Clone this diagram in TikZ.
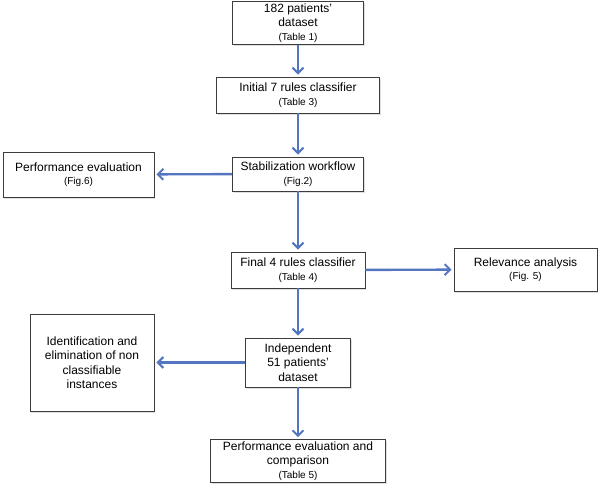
\documentclass[tikz,border=0pt]{standalone}
\usepackage{fontspec}
\setmainfont{Liberation Sans}
\usetikzlibrary{arrows.meta,shadows}
\definecolor{arrowblue}{RGB}{84,117,192}
\definecolor{boxgray}{RGB}{60,60,60}
\newcommand{\reffont}{\fontsize{10}{12}\selectfont}
\begin{document}
\begin{tikzpicture}[x=1pt, y=-1pt,
    box/.style = {draw=boxgray, line width=0.9pt, fill=white, align=center,
        inner sep=2pt, font=\fontsize{12}{14.5}\selectfont,
        drop shadow={shadow xshift=1.2pt, shadow yshift=-1.5pt, opacity=0.25}},
    flow/.style = {draw=arrowblue, line width=2.4pt, shorten >=2pt,
        -{Straight Barb[length=5.5pt, width=11pt, line width=2pt]}}]
    \useasboundingbox (0,0) rectangle (600,490);
    % boxes
    \node[box, minimum width=131pt, minimum height=43pt] (data) at (298,23) {182 patients’\\dataset\\[-1pt]{\reffont (Table 1)}};
    \node[box, minimum width=163pt, minimum height=36pt] (init) at (298,95) {Initial 7 rules classifier\\[-1pt]{\reffont (Table 3)}};
    \node[box, minimum width=131pt, minimum height=34pt] (stab) at (298,174) {Stabilization workflow\\[-1pt]{\reffont (Fig.2)}};
    \node[box, minimum width=151pt, minimum height=45pt] (perf) at (78.5,174.5) {Performance evaluation\\[-1pt]{\reffont (Fig.6)}};
    \node[box, minimum width=134pt, minimum height=36pt] (final) at (298,270) {Final 4 rules classifier\\[-1pt]{\reffont (Table 4)}};
    \node[box, minimum width=143pt, minimum height=43pt] (relev) at (525.5,269.5) {Relevance analysis\\[-1pt]{\reffont (Fig. 5)}};
    \node[box, minimum width=105pt, minimum height=49pt] (indep) at (298,362.5) {Independent\\51 patients’\\dataset};
    \node[box, minimum width=124pt, minimum height=97pt] (ident) at (92,362.5) {Identification and\\elimination of non\\classifiable\\instances};
    \node[box, minimum width=175pt, minimum height=42pt] (comp) at (298,461) {Performance evaluation and\\comparison\\[-1pt]{\reffont (Table 5)}};
    % arrows
    \draw[flow] (data) -- (init);
    \draw[flow] (init) -- (stab);
    \draw[flow] (stab) -- (perf);
    \draw[flow] (stab) -- (final);
    \draw[flow] (final) -- (relev);
    \draw[flow] (final) -- (indep);
    \draw[flow] (indep) -- (ident);
    \draw[flow] (indep) -- (comp);
\end{tikzpicture}
\end{document}
